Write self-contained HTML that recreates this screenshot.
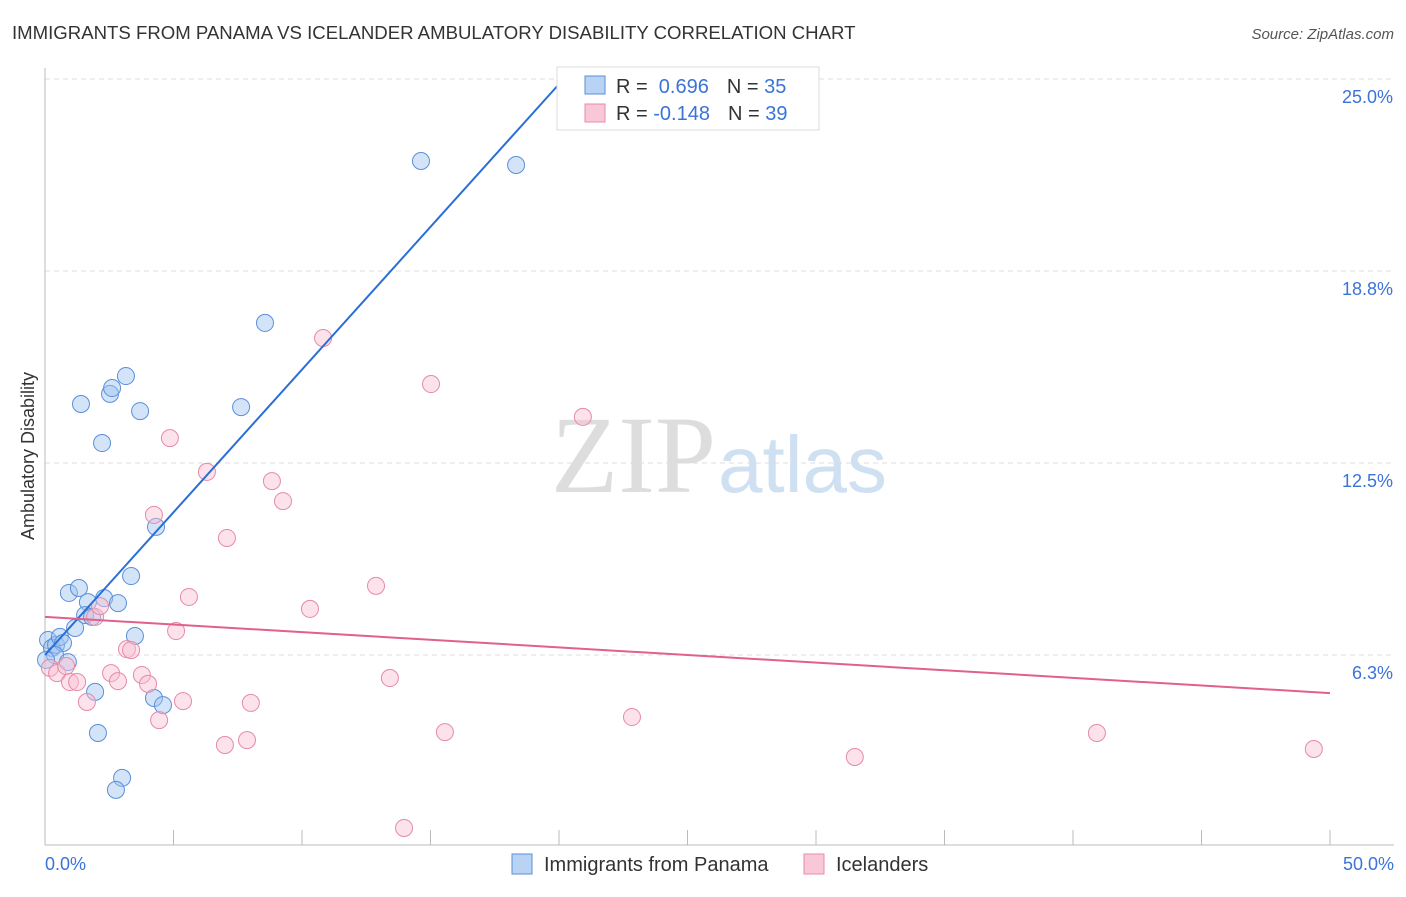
<!DOCTYPE html>
<html><head><meta charset="utf-8"><style>
body{margin:0;background:#fff;font-family:"Liberation Sans",sans-serif}
</style></head><body>
<svg width="1406" height="892" xmlns="http://www.w3.org/2000/svg" font-family="Liberation Sans, sans-serif">
<text x="12" y="39" font-size="18.6" fill="#333">IMMIGRANTS FROM PANAMA VS ICELANDER AMBULATORY DISABILITY CORRELATION CHART</text>
<text x="1394" y="39" font-size="15" fill="#555" font-style="italic" text-anchor="end">Source: ZipAtlas.com</text>
<text x="716" y="492" font-size="110" fill="#ddd" text-anchor="end" font-family="Liberation Serif, serif">ZIP</text>
<text x="718" y="492" font-size="80" fill="#cfe0f3">atlas</text>
<g id="grid"></g>
<line x1="45" y1="68" x2="45" y2="845" stroke="#bbb"/>
<line x1="45" y1="845" x2="1394" y2="845" stroke="#bbb"/>
<g id="xticks"></g>
<text x="34" y="456" font-size="18" fill="#333" text-anchor="middle" transform="rotate(-90 34 456)">Ambulatory Disability</text>
<text x="45" y="870" font-size="18" fill="#3b73d9">0.0%</text>
<text x="1394" y="870" font-size="18" fill="#3b73d9" text-anchor="end">50.0%</text>
<g id="pts"></g>
<g id="lines"></g>
<g>
<rect x="557" y="67" width="262" height="63" fill="#fff" stroke="#ddd"/>
<rect x="585" y="76" width="20" height="18" fill="#b9d3f5" stroke="#5b8fd9"/>
<rect x="585" y="104" width="20" height="18" fill="#f9c8d8" stroke="#e68aa8"/>
<text x="616" y="93" font-size="20" fill="#333">R = <tspan fill="#3b73d9">&#160;0.696</tspan><tspan dx="18">N = </tspan><tspan fill="#3b73d9">35</tspan></text>
<text x="616" y="120" font-size="20" fill="#333">R = <tspan fill="#3b73d9">-0.148</tspan><tspan dx="18">N = </tspan><tspan fill="#3b73d9">39</tspan></text>
</g>
<g>
<rect x="512" y="854" width="20" height="20" fill="#b9d3f5" stroke="#5b8fd9"/>
<text x="544" y="871" font-size="20" fill="#333">Immigrants from Panama</text>
<rect x="804" y="854" width="20" height="20" fill="#f9c8d8" stroke="#e68aa8"/>
<text x="836" y="871" font-size="20" fill="#333">Icelanders</text>
</g>
</svg>
<script>
const yTicks=[6.3,12.5,18.8,25.0];
const yTickVals=[6.25,12.5,18.75,25];
const xTickVals=[0,5,10,15,20,25,30,35,40,45,50];
const blueX=[0.12,0.27,0.43,0.58,0.70,0.39,0.89,1.17,0.93,1.32,1.67,1.56,1.83,2.30,2.84,3.35,3.50,1.95,2.06,3.0,2.76,4.24,4.59,4.32,3.70,2.53,2.61,3.15,1.40,2.22,7.63,8.56,14.63,18.33,0.04];
const blueY=[6.74,6.48,6.58,6.84,6.64,6.25,6.02,7.13,8.27,8.43,7.97,7.55,7.49,8.10,7.94,8.82,6.87,5.05,3.71,2.25,1.86,4.85,4.62,10.42,14.19,14.75,14.94,15.33,14.42,13.15,14.32,17.06,22.33,22.2,6.09];
const pinkX=[0.19,0.47,0.82,0.97,1.25,1.63,1.95,2.14,2.57,2.84,3.19,3.35,3.77,4.01,4.44,4.24,4.86,5.10,5.37,5.60,6.30,7.0,7.08,7.86,8.01,8.83,9.26,10.31,10.82,12.88,13.42,13.97,15.02,15.56,20.93,22.84,31.51,40.93,49.37];
const pinkY=[5.83,5.66,5.89,5.37,5.37,4.72,7.49,7.84,5.66,5.40,6.44,6.41,5.60,5.31,4.13,10.81,13.31,7.03,4.75,8.14,12.21,3.32,10.06,3.48,4.69,11.91,11.26,7.75,16.57,8.50,5.50,0.62,15.07,3.74,14.0,4.23,2.93,3.71,3.19];
const blueLine=[[0,6.25],[20.04,24.87]];
const pinkLine=[[0,7.49],[50,5.01]];
const X=v=>45+v*25.7, Y=v=>847-v*30.72;
const NS="http://www.w3.org/2000/svg";
function mk(t,a,p){const e=document.createElementNS(NS,t);for(const k in a)e.setAttribute(k,a[k]);document.getElementById(p).appendChild(e);return e;}
yTickVals.forEach((v,i)=>{
 const l=mk('line',{x1:45,x2:1394,y1:Y(v),y2:Y(v),stroke:'#ddd','stroke-dasharray':'5,4'},'grid');
 
 
 const t=mk('text',{x:1393,y:Y(v)+24,'font-size':18,fill:'#3b73d9','text-anchor':'end'},'grid');
 t.textContent=yTicks[i].toFixed(1)+'%';
 
 
});
xTickVals.forEach(v=>{
 const l=mk('line',{x1:X(v),x2:X(v),y1:830,y2:845,stroke:'#bbb'},'xticks');
 
 
});
blueX.forEach((v,i)=>{
 const c=mk('circle',{cx:X(v),cy:Y(blueY[i]),r:8.5,fill:'rgba(160,195,240,0.45)',stroke:'#5b8fd9','stroke-width':1},'pts');
 
 
});
pinkX.forEach((v,i)=>{
 const c=mk('circle',{cx:X(v),cy:Y(pinkY[i]),r:8.5,fill:'rgba(248,190,210,0.45)',stroke:'#e68aa8','stroke-width':1},'pts');
 
 
});
const bl=mk('line',{x1:X(blueLine[0][0]),y1:Y(blueLine[0][1]),x2:X(blueLine[1][0]),y2:Y(blueLine[1][1]),stroke:'#2a6fd6','stroke-width':2},'lines');


const pl=mk('line',{x1:X(pinkLine[0][0]),y1:Y(pinkLine[0][1]),x2:X(pinkLine[1][0]),y2:Y(pinkLine[1][1]),stroke:'#e0608f','stroke-width':2},'lines');


</script>
</body></html>
